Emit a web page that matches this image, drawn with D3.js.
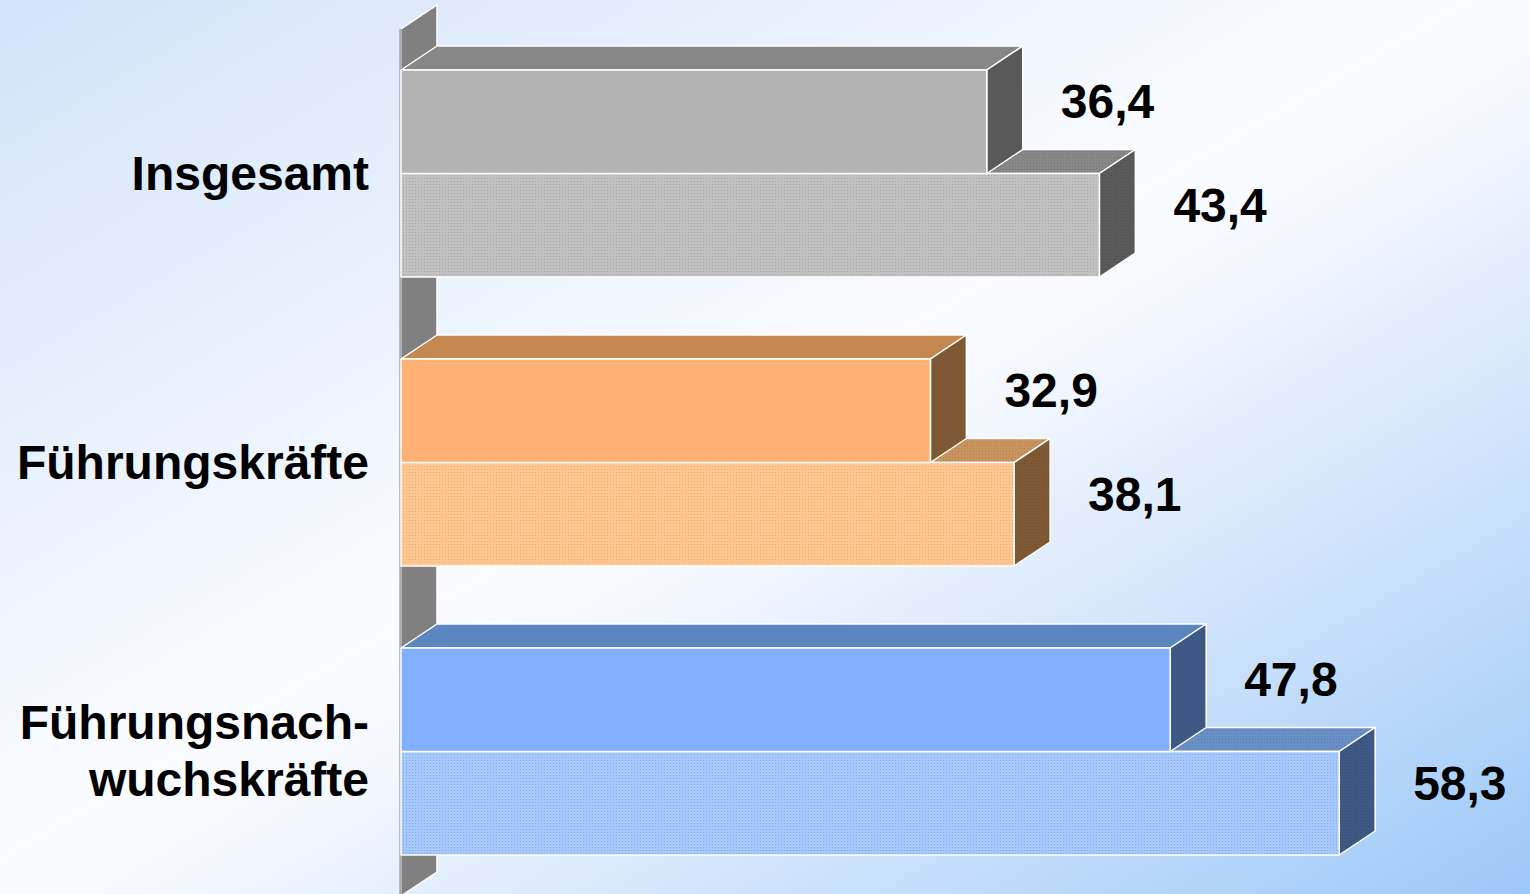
<!DOCTYPE html>
<html>
<head>
<meta charset="utf-8">
<script src="https://cdn.jsdelivr.net/npm/d3@7"></script>
<style>
  html, body { margin: 0; padding: 0; overflow: hidden; }
  svg { display: block; }
</style>
</head>
<body>
<svg id="chart" width="1530" height="894"></svg>
<script>
// ---- data ----
const categories = ["Insgesamt", "Führungskräfte", "Führungsnach-\nwuchskräfte"];
const seriesNames = ["A", "B"];
const seriesA = [36.4, 32.9, 47.8];
const seriesB = [43.4, 38.1, 58.3];
const xDomain = [0, 60];

// ---- styling ----
const W = 1530, H = 894;
const DX = 36, DY = 24;
const FONT = "'Liberation Sans', Arial, sans-serif";
const palettes = [
  { front: ["#b3b3b3", "#c2c2c2"], dot: "#a6a6a6", top: ["#878787", "#878787"], side: ["#595959", "#5a5a5a"] },
  { front: ["#ffb073", "#ffc893"], dot: "#f3a56c", top: ["#c4874f", "#c8935f"], side: ["#7f5834", "#7f5834"] },
  { front: ["#80b0ff", "#a6c8fd"], dot: "#82acf0", top: ["#5b86c2", "#6a8fc6"], side: ["#3e5986", "#3e5986"] }
];

const svg = d3.select("#chart");
const defs = svg.append("defs");

// background gradient
const bg = defs.append("linearGradient").attr("id", "bg")
  .attr("x1", 0).attr("y1", 0).attr("x2", 1).attr("y2", 1);
bg.append("stop").attr("offset", 0).attr("stop-color", "#d2e3fa");
bg.append("stop").attr("offset", 0.48).attr("stop-color", "#fbfcff");
bg.append("stop").attr("offset", 0.56).attr("stop-color", "#f3f7fe");
bg.append("stop").attr("offset", 1).attr("stop-color", "#9cc8f8");
svg.append("rect").attr("width", W).attr("height", H).attr("fill", "url(#bg)");

// dotted patterns
function dotPattern(id, base, dot) {
  const p = defs.append("pattern").attr("id", id).attr("patternUnits", "userSpaceOnUse")
    .attr("width", 3).attr("height", 3);
  p.append("rect").attr("width", 3).attr("height", 3).attr("fill", base);
  p.append("rect").attr("x", 1).attr("y", 1).attr("width", 1).attr("height", 1).attr("fill", dot);
  return `url(#${id})`;
}
function darker(c, k) { return d3.color(c).darker(k).formatHex(); }

// scales
const x = d3.scaleLinear().domain(xDomain).range([401, 1366.5]);
const y0 = d3.scaleBand().domain(categories).range([29, 896]).paddingInner(0).paddingOuter(0);
const groupPad = 41;
const y1 = d3.scaleBand().domain(seriesNames)
  .range([groupPad, y0.bandwidth() - groupPad]);

// wall
const wallTop = y0.range()[0], wallBot = y0.range()[1];
svg.append("path")
  .attr("d", `M${x(0)},${wallTop} L${x(0) + DX},${wallTop - DY} L${x(0) + DX},${wallBot - DY} L${x(0)},${wallBot} Z`)
  .attr("fill", "#808080").attr("stroke", "#ffffff").attr("stroke-width", 1.5);
svg.append("line")
  .attr("x1", x(0) - 0.5).attr("x2", x(0) - 0.5).attr("y1", wallTop).attr("y2", wallBot)
  .attr("stroke", "#a8a8a8").attr("stroke-width", 2.5);

// bars: draw from bottom to top so upper bars overlap lower bars' top faces
const bars = [];
categories.forEach((c, i) => {
  [seriesA, seriesB].forEach((s, j) => {
    bars.push({ cat: c, ci: i, si: j, value: s[i] });
  });
});
bars.sort((a, b) => (b.ci * 2 + b.si) - (a.ci * 2 + a.si));

const fmt = v => d3.format(".1f")(v).replace(".", ",");

bars.forEach(b => {
  const pal = palettes[b.ci];
  const top = y0(b.cat) + y1(seriesNames[b.si]);
  const h = y1.bandwidth();
  const xl = x(0), xr = x(b.value);
  let fFront = pal.front[b.si], fTop = pal.top[b.si], fSide = pal.side[b.si];
  if (b.si === 1) {
    fFront = dotPattern(`pf${b.ci}`, pal.front[1], pal.dot);
    fTop = dotPattern(`pt${b.ci}`, pal.top[1], darker(pal.top[1], 0.35));
    fSide = dotPattern(`ps${b.ci}`, pal.side[1], darker(pal.side[1], 0.35));
  }
  const g = svg.append("g").attr("class", "bar");
  g.append("path")
    .attr("d", `M${xl},${top} L${xl + DX},${top - DY} L${xr + DX},${top - DY} L${xr},${top} Z`)
    .attr("fill", fTop).attr("stroke", "#fff").attr("stroke-width", 1.5).attr("stroke-linejoin", "round");
  g.append("path")
    .attr("d", `M${xr},${top} L${xr + DX},${top - DY} L${xr + DX},${top + h - DY} L${xr},${top + h} Z`)
    .attr("fill", fSide).attr("stroke", "#fff").attr("stroke-width", 1.5).attr("stroke-linejoin", "round");
  g.append("rect")
    .attr("x", xl).attr("y", top).attr("width", xr - xl).attr("height", h)
    .attr("fill", fFront).attr("stroke", "#fff").attr("stroke-width", 1.5);
  // value label
  svg.append("text")
    .attr("x", xr + DX + 38).attr("y", top + 48)
    .attr("font-family", FONT)
    .attr("font-weight", "bold").attr("font-size", 48).attr("fill", "#000")
    .text(fmt(b.value));
});

// category labels
categories.forEach(c => {
  const lines = c.split("\n");
  const cy = y0(c) + y0.bandwidth() / 2;
  const lh = 57;
  const t = svg.append("text")
    .attr("text-anchor", "end")
    .attr("font-family", FONT)
    .attr("font-weight", "bold").attr("font-size", 48).attr("fill", "#000");
  lines.forEach((ln, k) => {
    t.append("tspan").attr("x", 369)
      .attr("y", cy + 16 + (k - (lines.length - 1) / 2) * lh)
      .text(ln);
  });
});
</script>
</body>
</html>
